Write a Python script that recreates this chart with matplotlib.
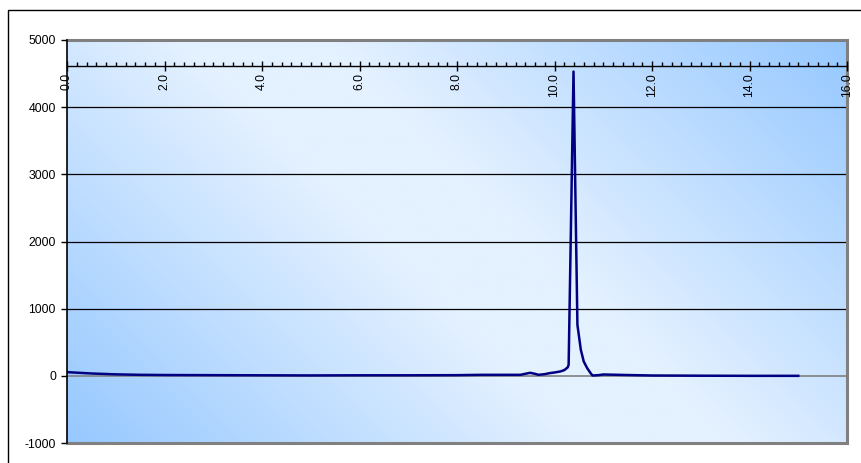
import numpy as np
import matplotlib
matplotlib.use("Agg")
import matplotlib.pyplot as plt
from matplotlib.patches import Rectangle
from matplotlib.ticker import MultipleLocator, FormatStrFormatter

plt.rcParams['font.family'] = ['Liberation Sans', 'DejaVu Sans']

# data (retention time vs signal)
x_vals = [0.0, 0.5, 1.0, 1.5, 2.0, 3.0, 4.0, 5.0, 6.0, 7.0, 8.0, 8.5, 9.0,
          9.3, 9.4, 9.5, 9.6, 9.67, 9.8, 9.9, 10.0, 10.12, 10.2, 10.27, 10.29,
          10.39, 10.47, 10.54, 10.60, 10.67, 10.74, 10.78, 10.9,
          11.0, 11.5, 12.0, 13.0, 14.0, 15.0]
y_vals = [55, 35, 22, 15, 12, 10, 8, 6, 8, 8, 10, 15, 15,
          15, 30, 45, 30, 15, 25, 40, 50, 65, 85, 125, 165,
          4530, 760, 388, 213, 115, 40, 5, 10,
          20, 12, 5, 2, 0, 0]
y_ticks = [-1000, 0, 1000, 2000, 3000, 4000, 5000]
x_axis_cross = 4620

W, H = 861, 463
fig = plt.figure(figsize=(W / 100, H / 100), dpi=100)

# outer border (cropped on right/bottom)
fig.patches.append(Rectangle((8 / W, -0.2), 1.2, (H - 10) / H + 0.2, transform=fig.transFigure,
                             fill=False, edgecolor='black', linewidth=1.0, zorder=0))

L, R, T, B = 67, 847, 40, 443
ax = fig.add_axes([L / W, (H - B) / H, (R - L) / W, (B - T) / H])

# diagonal gradient background
pw, ph = R - L, B - T
px = np.linspace(0, 1, 400)[None, :] * pw
py = np.linspace(1, 0, 200)[:, None] * ph
t = (px + py) / (pw + ph)
k = 1 - np.abs(2 * t - 1)
k = np.clip(k * 1.15, 0, 1)
dark = np.array([150, 200, 255]) / 255
light = np.array([228, 241, 255]) / 255
img = dark[None, None, :] + (light - dark)[None, None, :] * k[:, :, None]
ax.imshow(img, extent=[0, 1, 0, 1], transform=ax.transAxes, aspect='auto', zorder=0)

ax.set_xlim(0, 16)
ax.set_ylim(-1000, 5000)

# gridlines
for yv in y_ticks[2:-1]:
    ax.axhline(yv, color='black', linewidth=0.9, zorder=1)
ax.axhline(0, color='#808080', linewidth=1.2, zorder=1)

ax.plot(x_vals, y_vals, color='#000080', linewidth=1.8, zorder=3)

# plot-area border
for s in ['top', 'right', 'bottom']:
    ax.spines[s].set_color('#808080')
    ax.spines[s].set_linewidth(2.2)
ax.spines['left'].set_color('black')
ax.spines['left'].set_linewidth(1.2)
ax.spines['left'].set_zorder(5)

ax.set_xticks([])
ax.set_yticks(y_ticks)
ax.set_yticklabels([str(v) for v in y_ticks])
ax.tick_params(axis='y', direction='out', length=4, width=1, labelsize=8.8, pad=4)

# category axis crossing near the top
ax3 = fig.add_axes(ax.get_position())
ax3.set_xlim(0, 16)
ax3.set_ylim(-1000, 5000)
ax3.patch.set_visible(False)
for s in ['top', 'right', 'left']:
    ax3.spines[s].set_visible(False)
ax3.spines['bottom'].set_position(('data', x_axis_cross))
ax3.spines['bottom'].set_color('black')
ax3.spines['bottom'].set_linewidth(1.0)
ax3.set_yticks([])
ax3.xaxis.set_major_locator(MultipleLocator(2))
ax3.xaxis.set_minor_locator(MultipleLocator(0.2))
ax3.xaxis.set_major_formatter(FormatStrFormatter('%.1f'))
ax3.tick_params(axis='x', which='major', direction='inout', length=7, width=1,
                labelsize=8.8, labelrotation=90, pad=2)
ax3.tick_params(axis='x', which='minor', direction='in', length=3, width=1)

fig.savefig('out.png', dpi=100)
